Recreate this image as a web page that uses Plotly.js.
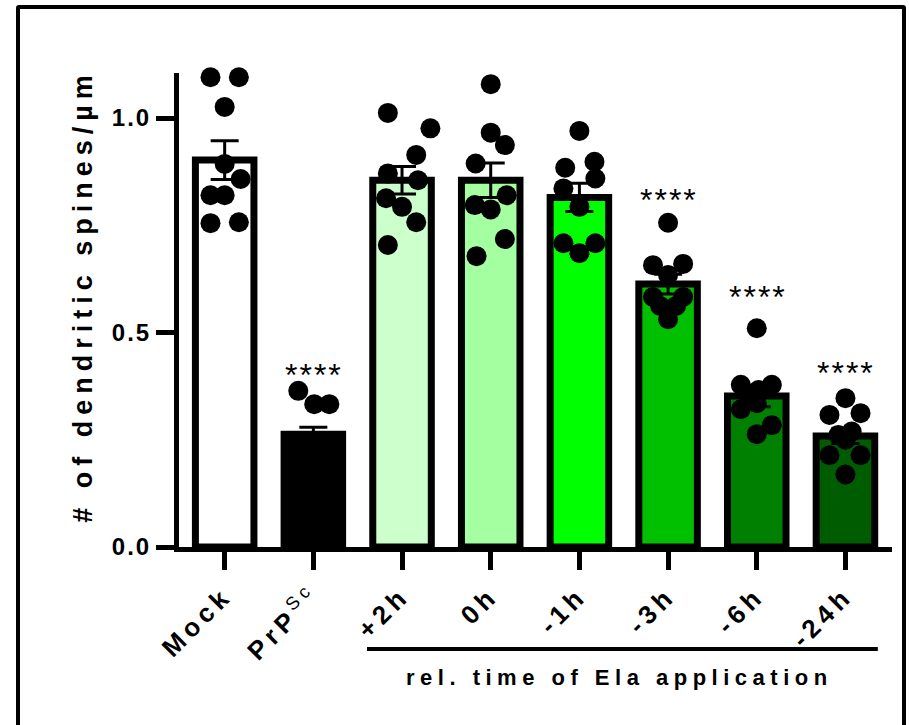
<!DOCTYPE html>
<html>
<head>
<meta charset="utf-8">
<script src="https://cdn.plot.ly/plotly-3.0.1.min.js"></script>
<style>
  html, body { margin: 0; padding: 0; background: #fff; }
  #wrap { position: relative; width: 909px; height: 725px; overflow: hidden; }
  #frame { position: absolute; left: 16px; top: 5px; width: 890px; height: 740px;
           border: 4px solid #000; border-radius: 3px; box-sizing: border-box; pointer-events: none; z-index: 2; }
  #chart { position: absolute; left: 0; top: 0; width: 909px; height: 725px; }
  .xtick text { letter-spacing: 5px; }
  .ytick text { letter-spacing: 2px; }
  .annotation-text.sp { letter-spacing: 6px; }
  .annotation-text.sb { letter-spacing: 5.5px; }
  .annotation-text.st { letter-spacing: 2px; }
</style>
</head>
<body>
<div id="wrap">
  <div id="chart"></div>
  <div id="frame"></div>
</div>
<script>
// ---- data ----
const categories = ["Mock", "PrP<sup><span style='font-weight:normal'>Sc</span></sup>", "+2h", "0h", "-1h", "-3h", "-6h", "-24h"];
const means = [0.902, 0.263, 0.855, 0.855, 0.815, 0.613, 0.352, 0.259];
const sems  = [0.045, 0.016, 0.032, 0.040, 0.033, 0.023, 0.025, 0.018];
const barColors = ["#ffffff", "#000000", "#ccffcc", "#a3ff9f", "#00ff00", "#00c000", "#008000", "#005c00"];

const ptsMock = [1.095, 1.095, 1.026, 0.893, 0.858, 0.820, 0.820, 0.755, 0.757];
const ptsPrP  = [0.364, 0.333, 0.333, 0.245];
const pts2h   = [1.012, 0.976, 0.914, 0.871, 0.855, 0.813, 0.793, 0.757, 0.704];
const pts0h   = [1.079, 0.966, 0.937, 0.894, 0.820, 0.797, 0.787, 0.718, 0.678];
const ptsM1h  = [0.970, 0.898, 0.884, 0.859, 0.836, 0.793, 0.708, 0.708, 0.685];
const ptsM3h  = [0.756, 0.657, 0.660, 0.634, 0.583, 0.583, 0.562, 0.562, 0.531];
const ptsM6h  = [0.510, 0.378, 0.378, 0.366, 0.335, 0.321, 0.284, 0.263, 0.354];
const ptsM24h = [0.347, 0.308, 0.312, 0.269, 0.261, 0.214, 0.214, 0.169, 0.250];

// horizontal scatter of the dots (category units)
const jitMock = [-0.16, 0.16, 0, 0, 0.18, -0.16, 0, -0.16, 0.16];
const jitPrP  = [-0.17, 0.01, 0.18, -0.15];
const jit2h   = [-0.16, 0.32, 0.16, -0.16, 0.18, -0.18, 0, 0.16, -0.16];
const jit0h   = [0, 0, 0.16, -0.17, 0.18, -0.18, 0, 0.16, -0.16];
const jitM1h  = [0, 0.17, -0.16, 0.18, -0.18, 0, -0.18, 0.18, 0];
const jitM3h  = [0, -0.17, 0.17, 0, -0.17, 0.17, -0.09, 0.09, 0];
const jitM6h  = [0, -0.18, 0.17, 0.02, 0, -0.18, 0.17, 0, -0.09];
const jitM24h = [0, -0.18, 0.17, 0.07, -0.08, -0.18, 0.17, 0, 0];

const sigText = "****";
const sigGroups = [1, 5, 6, 7];
const sigY = [0.413, 0.821, 0.595, 0.417];

const yTickVals = [0, 0.5, 1.0];
const yTickText = ["0.0", "0.5", "1.0"];
const yTitle = "# of dendritic spines/µm";
const groupLabel = "rel. time of Ela application";

// ---- build ----
const idx = categories.map((c, i) => i);
const FONT = "Liberation Sans, Arial, sans-serif";

const traces = [];
traces.push({
  type: "bar", x: idx, y: means, width: 0.66,
  marker: { color: barColors, line: { color: "#000", width: 7 } },
  error_y: { type: "data", array: sems, visible: true, color: "#000", thickness: 3, width: 14 },
  hoverinfo: "skip", showlegend: false
});

const allPts = [ptsMock, ptsPrP, pts2h, pts0h, ptsM1h, ptsM3h, ptsM6h, ptsM24h];
const allJit = [jitMock, jitPrP, jit2h, jit0h, jitM1h, jitM3h, jitM6h, jitM24h];
allPts.forEach((p, g) => {
  traces.push({
    type: "scatter", mode: "markers",
    x: p.map((v, k) => g + allJit[g][k]), y: p,
    marker: { color: "#000", size: 20, line: { width: 0 } },
    hoverinfo: "skip", showlegend: false, cliponaxis: false
  });
});

const annotations = sigGroups.map((g, k) => ({
  x: g, y: sigY[k], xref: "x", yref: "y", text: sigText, showarrow: false,
  font: { family: FONT, size: 32, color: "#000" }, xanchor: "center", yanchor: "middle",
  xshift: 1, yshift: -5
}));
annotations.push({
  x: -0.1346, y: 0.53, xref: "paper", yref: "paper", text: "<b>" + yTitle + "</b>",
  textangle: -90, showarrow: false, font: { family: FONT, size: 27, color: "#000" },
  xanchor: "center", yanchor: "middle"
});
annotations.push({
  x: 0.6185, y: -0.276, xref: "paper", yref: "paper", text: "<b>" + groupLabel + "</b>",
  showarrow: false, font: { family: FONT, size: 22, color: "#000" },
  xanchor: "center", yanchor: "middle"
});

const layout = {
  width: 909, height: 725,
  margin: { l: 179, r: 17, t: 73, b: 178 },
  paper_bgcolor: "#fff", plot_bgcolor: "#fff",
  showlegend: false,
  xaxis: {
    range: [-0.515, 7.525], tickvals: idx, ticktext: categories,
    tickangle: -45, ticks: "outside", ticklen: 18, tickwidth: 5, tickcolor: "#000",
    showline: true, linecolor: "#000", linewidth: 5, showgrid: false, zeroline: false,
    tickfont: { family: FONT, size: 26, color: "#000", weight: "bold" }, fixedrange: true
  },
  yaxis: {
    range: [0, 1.105], tickvals: yTickVals, ticktext: yTickText,
    ticks: "outside", ticklen: 18, tickwidth: 5, tickcolor: "#000",
    showline: true, linecolor: "#000", linewidth: 5, showgrid: false, zeroline: false,
    tickfont: { family: FONT, size: 24, color: "#000", weight: "bold" }, fixedrange: true
  },
  shapes: [{
    type: "line", xref: "x", yref: "paper", x0: 1.605, x1: 7.365, y0: -0.215, y1: -0.215,
    line: { color: "#000", width: 4 }
  }],
  annotations: annotations
};

Plotly.newPlot("chart", traces, layout, { staticPlot: true, displayModeBar: false }).then(() => {
  document.querySelectorAll(".annotation-text").forEach(el => {
    const t = el.textContent;
    if (t === sigText) el.classList.add("st");
    else if (t === groupLabel) el.classList.add("sb");
    else el.classList.add("sp");
  });
});
</script>
</body>
</html>
